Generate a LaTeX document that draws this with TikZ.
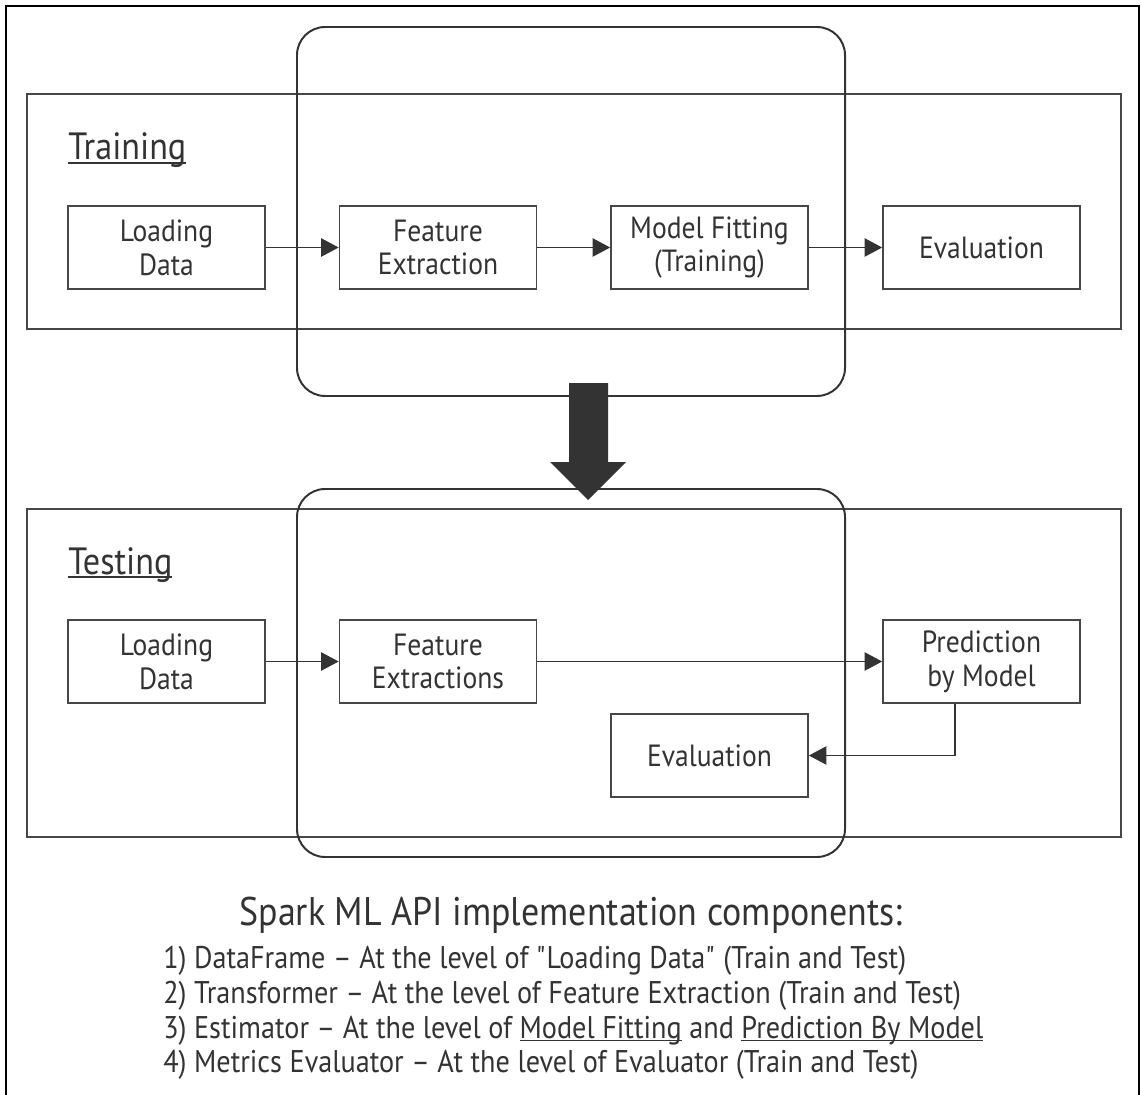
\documentclass[tikz,border=0pt]{standalone}
\usepackage{fontspec}
\setmainfont{PT Sans}[FakeStretch=0.9]
\usetikzlibrary{arrows.meta}
\definecolor{ink}{HTML}{333333}
\definecolor{linegray}{HTML}{474747}
% underline that sits just under the baseline
\newcommand\undl[1]{\leavevmode\setbox0\hbox{#1}\rlap{\rule[-0.11em]{\wd0}{0.045em}}\box0\relax}
% straight double quote, set as a glyph so the TeX mapping leaves it alone
\newcommand\straightquote{\XeTeXglyph\XeTeXcharglyph"22\relax}
\begin{document}
\begin{tikzpicture}[x=0.025cm,y=-0.025cm,
  every node/.style={text=ink},
  panel/.style={draw=linegray,line width=1.2pt,minimum width=1094*0.025cm,inner sep=0pt},
  stage/.style={draw=linegray,line width=1.2pt,rectangle,inner sep=0pt,
    minimum width=197*0.025cm,minimum height=83*0.025cm,align=center,
    font=\fontsize{21.8}{24}\selectfont},
  apiframe/.style={draw=ink,line width=1.4pt,rounded corners=20pt,inner sep=0pt,
    minimum width=548*0.025cm},
  flow/.style={draw=ink,line width=1.2pt,-{Triangle[length=12.5pt,width=13pt]}},
  title/.style={anchor=base west,inner sep=0pt,font=\fontsize{27}{30}\selectfont},
  listline/.style={anchor=base west,inner sep=0pt,font=\fontsize{22.3}{25}\selectfont}]
\useasboundingbox (0,0) rectangle (1141,1095);
\fill[white] (0,0) rectangle (1141,1095);

% outer frame, open at the bottom
\draw[black,line width=1.7pt] (6,1095) -- (6,6) -- (1139,6) -- (1139,1095);

% training and testing panels
\node[panel,minimum height=235*0.025cm] (trainpanel) at (574,211.5) {};
\node[panel,minimum height=328*0.025cm] (testpanel) at (574,673) {};

% Spark ML API frames
\node[apiframe,minimum height=369*0.025cm] (apitop) at (571,211.5) {};
\node[apiframe,minimum height=368*0.025cm] (apibot) at (571,673) {};

% panel titles
\node[title] (traintitle) at (68,160) {\undl{Training}};
\node[title] (testtitle) at (68,574) {\undl{Testing}};

% training pipeline
\node[stage] (tld) at (166.5,247.5) {Loading\\Data};
\node[stage] (tfe) at (438,247.5) {Feature\\Extraction};
\node[stage] (tmf) at (709.5,247.5) {Model Fitting\\(Training)};
\node[stage] (tev) at (981.5,247.5) {Evaluation};
\draw[flow] (tld) -- (tfe);
\draw[flow] (tfe) -- (tmf);
\draw[flow] (tmf) -- (tev);

% testing pipeline
\node[stage] (sld) at (166.5,661.5) {Loading\\Data};
\node[stage] (sfe) at (438,661.5) {Feature\\Extractions};
\node[stage] (spm) at (981.5,661.5) {Prediction\\by Model};
\node[stage] (sev) at (709.5,755.5) {Evaluation};
\coordinate (bend) at (955,755.5);
\draw[flow] (sld) -- (sfe);
\draw[flow] (sfe) -- (spm);
\draw[flow] (spm.south -| bend) |- (sev.east);

% big arrow from training to testing
\fill[ink] (569,383) -- (608,383) -- (608,462) -- (626,462) -- (588,500)
  -- (550,462) -- (569,462) -- cycle;

% legend
\node[anchor=base,inner sep=0pt,font=\fontsize{28.4}{31}\selectfont] (caption) at (571,925)
  {Spark ML API implementation components:};
\node[listline] (item1) at (163,968)
  {1) DataFrame -- At the level of \straightquote Loading Data\straightquote{} (Train and Test)};
\node[listline] (item2) at (163,1003)
  {2) Transformer -- At the level of Feature Extraction (Train and Test)};
\node[listline] (item3) at (163,1038)
  {3) Estimator -- At the level of \undl{Model Fitting} and \undl{Prediction By Model}};
\node[listline] (item4) at (163,1072)
  {4) Metrics Evaluator -- At the level of Evaluator (Train and Test)};
\end{tikzpicture}
\end{document}
